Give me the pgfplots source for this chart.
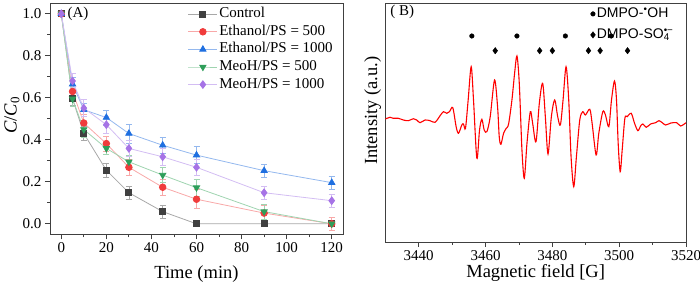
\documentclass[border=0pt]{standalone}
\usepackage{pgfplots}
\pgfplotsset{compat=1.18}
\usepackage{fontspec}
\setmainfont{Liberation Serif}
\newfontfamily\arial{Liberation Sans}
\definecolor{axgray}{HTML}{404040}
\definecolor{ctrlD}{HTML}{404040}
\definecolor{ctrlL}{HTML}{A8A8A8}
\definecolor{redD}{HTML}{F03C3C}
\definecolor{redL}{HTML}{F8A8A8}
\definecolor{blueD}{HTML}{1F6FE0}
\definecolor{blueL}{HTML}{94B8EE}
\definecolor{greenD}{HTML}{2E9E5A}
\definecolor{greenL}{HTML}{9FD4B0}
\definecolor{purpD}{HTML}{A673E6}
\definecolor{purpL}{HTML}{D3BDF3}
\begin{document}
\begin{tikzpicture}
\useasboundingbox (0,0) rectangle (700pt,286pt);
\pgfplotsset{
  common/.style={
    scale only axis, anchor=south west,
    tick align=outside, tick pos=left,
    major tick length=5pt, minor tick length=3pt,
    axis line style={draw=axgray, line width=0.9pt},
    every tick/.style={axgray, line width=0.9pt},
    ticklabel style={font=\fontsize{15}{16}\selectfont, text=black},
    label style={font=\fontsize{18.5}{20}\selectfont},
    /pgf/number format/assume math mode=true,
  }
}
% ---------------- Panel A ----------------
\begin{axis}[common,
  at={(50pt,51.7pt)}, width=293pt, height=231pt,
  xmin=-5, xmax=125, ymin=-0.05, ymax=1.05,
  xtick={0,20,40,60,80,100,120}, minor x tick num=1,
  ytick={0,0.2,0.4,0.6,0.8,1.0}, minor y tick num=1,
  yticklabel style={/pgf/number format/.cd, fixed, fixed zerofill, precision=1},
  xlabel={Time (min)}, ylabel={\textit{C}/\textit{C}\textsubscript{0}},
  xlabel style={at={(axis description cs:0.5,-0.172)}, anchor=center},
  ylabel style={at={(axis description cs:-0.13,0.516)}, anchor=center},
  legend style={draw=none, fill=none, at={(axis description cs:0.46,0.997)}, anchor=north west,
    font=\fontsize{15}{16}\selectfont,
    nodes={text height=10pt, text depth=3pt, inner sep=1.5pt}, row sep=1.6pt},
  legend cell align=left,
  legend image code/.code={\draw[mark repeat=2,mark phase=2,#1] plot coordinates {(0pt,0pt) (14.5pt,0pt) (29pt,0pt)};},
  error bars/y dir=both, error bars/y explicit,
]
\addplot[ctrlL, line width=0.8pt, mark=square*, mark size=3pt, mark options={fill=ctrlD, draw=ctrlD},
  error bars/error bar style={ctrlL, line width=0.7pt},
  error bars/error mark options={rotate=90, mark size=3pt, ctrlL, line width=0.7pt}]
  table[x=x, y=y, y error=e] {
x y e
0 1.000 0.000
5 0.595 0.030
10 0.430 0.035
20 0.255 0.035
30 0.148 0.030
45 0.058 0.030
60 0.000 0.000
90 0.000 0.000
120 0.000 0.000
};
\addlegendentry{Control}
\addplot[redL, line width=0.8pt, mark=*, mark size=3.3pt, mark options={fill=redD, draw=redD},
  error bars/error bar style={redL, line width=0.7pt},
  error bars/error mark options={rotate=90, mark size=3pt, redL, line width=0.7pt}]
  table[x=x, y=y, y error=e] {
x y e
0 1.000 0.000
5 0.630 0.030
10 0.480 0.040
20 0.382 0.035
30 0.269 0.040
45 0.174 0.040
60 0.117 0.045
90 0.051 0.035
120 0.000 0.030
};
\addlegendentry{Ethanol/PS = 500}
\addplot[blueL, line width=0.8pt, mark=triangle*, mark size=3.6pt, mark options={fill=blueD, draw=blueD},
  error bars/error bar style={blueL, line width=0.7pt},
  error bars/error mark options={rotate=90, mark size=3pt, blueL, line width=0.7pt}]
  table[x=x, y=y, y error=e] {
x y e
0 1.000 0.000
5 0.665 0.030
10 0.543 0.030
20 0.506 0.035
30 0.430 0.045
45 0.374 0.040
60 0.327 0.040
90 0.253 0.030
120 0.196 0.030
};
\addlegendentry{Ethanol/PS = 1000}
\addplot[greenL, line width=0.8pt, mark=triangle*, mark size=3.6pt, mark options={fill=greenD, draw=greenD, rotate=180},
  error bars/error bar style={greenL, line width=0.7pt},
  error bars/error mark options={rotate=90, mark size=3pt, greenL, line width=0.7pt}]
  table[x=x, y=y, y error=e] {
x y e
0 1.000 0.000
5 0.595 0.035
10 0.449 0.035
20 0.359 0.030
30 0.295 0.030
45 0.232 0.035
60 0.172 0.040
90 0.058 0.035
120 0.000 0.010
};
\addlegendentry{MeoH/PS = 500}
\addplot[purpL, line width=0.8pt, mark=diamond*, mark size=3.8pt, mark options={fill=purpD, draw=purpD},
  error bars/error bar style={purpL, line width=0.7pt},
  error bars/error mark options={rotate=90, mark size=3pt, purpL, line width=0.7pt}]
  table[x=x, y=y, y error=e] {
x y e
0 1.000 0.000
5 0.680 0.035
10 0.551 0.040
20 0.472 0.040
30 0.359 0.040
45 0.319 0.040
60 0.269 0.040
90 0.148 0.030
120 0.110 0.030
};
\addlegendentry{MeoH/PS = 1000}
\node[font=\fontsize{15}{16}\selectfont, anchor=center] at (axis description cs:0.0956,0.954) {(A)};
\end{axis}
% ---------------- Panel B ----------------
\begin{axis}[common,
  at={(385.3pt,44pt)}, width=300.7pt, height=239pt,
  xmin=3430, xmax=3520, ymin=-124, ymax=115,
  xtick={3440,3460,3480,3500,3520}, minor x tick num=1,
  ytick=\empty,
  xticklabel style={/pgf/number format/.cd, set thousands separator={}},
  xlabel={Magnetic field [G]}, ylabel={Intensity (a.u.)},
  xlabel style={at={(axis description cs:0.5,-0.13)}, anchor=center},
  ylabel style={at={(axis description cs:-0.042,0.549)}, anchor=center},
  legend style={draw=none, fill=none, at={(axis description cs:0.672,0.997)}, anchor=north west,
    font=\arial\fontsize{14}{16}\selectfont,
    nodes={text height=10pt, text depth=3pt, inner sep=1.5pt}, row sep=5pt},
  legend cell align=left,
  legend image code/.code={\draw[mark repeat=2,mark phase=2,#1] plot coordinates {(0pt,0pt) (3pt,0pt) (6pt,0pt)};},
]
\addplot[red, line width=1.1pt, smooth, tension=0.5, forget plot] coordinates {
(3430,-1) (3431.4,0.7) (3432.4,-0.3) (3433.9,-0.3) (3435.4,-2) (3436.9,-2.7)
(3438.4,-0.7) (3439.4,-2) (3440.4,-4.7) (3441.9,-2) (3443.4,-2.7) (3444.9,-4.3)
(3446.4,2.3) (3447.4,6.3) (3448.4,4.7) (3449.2,6.3) (3450.2,10.3) (3451.2,-8.7)
(3451.9,-15.3) (3452.9,-7) (3453.4,-6) (3454.0,-10.3) (3454.8,18) (3455.7,51.3)
(3456.4,18) (3457.4,-40.3) (3458.2,-12) (3458.9,-1.3) (3459.6,-12) (3460.4,-13.7)
(3461.4,1.3) (3462.7,38) (3463.6,11.3) (3464.1,-18.7) (3464.6,-26.3) (3465.4,-15.3)
(3466.2,-10.3) (3466.9,-6) (3467.9,18) (3468.7,44.7) (3469.4,62) (3470.1,34.7)
(3470.9,-32) (3471.6,-60.3) (3472.4,-25.3) (3473.4,6.3) (3474.1,-5.3) (3475.1,-23.7)
(3476.1,14.7) (3477.1,34.7) (3477.9,1.3) (3478.7,-36) (3479.7,1.3) (3480.7,18)
(3481.6,1.3) (3482.4,-7) (3483.2,18) (3484.1,51.3) (3484.9,18) (3485.6,-38.7)
(3486.4,-68.7) (3487.2,-38.7) (3488.2,-2) (3489.1,6.3) (3489.9,3) (3491.2,8.7)
(3491.9,-5.3) (3493.1,-37) (3493.9,-15.3) (3495.1,6.3) (3495.9,3) (3496.9,-8.7)
(3497.7,18) (3498.6,37) (3499.2,18) (3499.7,-25.3) (3500.3,-53.7) (3500.9,-32)
(3501.7,-0.3) (3502.4,1.3) (3503.6,4.7) (3504.6,-5.3) (3505.6,-12.7) (3506.4,-8)
(3507.1,-6) (3508.1,-9.3) (3509.4,-6) (3510.9,-4.7) (3511.9,-2.7) (3512.9,-4.7)
(3513.9,-7) (3515.5,-5) (3517.2,-4.7) (3518.4,-8) (3520,-4.7)
};
\addplot[only marks, mark=*, mark size=2.3pt, black] coordinates {
(3455.9,82) (3469.4,82) (3483.9,82) (3497.6,82)
};
\addlegendentry{DMPO-\textsuperscript{•}OH}
\addplot[only marks, mark=diamond*, mark size=3.2pt, black] coordinates {
(3462.9,67.3) (3476.2,67.3) (3480.0,67.3) (3490.8,67.3) (3494.3,67.3) (3502.5,67.3)
};
\addlegendentry{DMPO-SO\rlap{\textsubscript{4}}\textsuperscript{•−}}
\node[font=\fontsize{15}{16}\selectfont, anchor=west] at (axis description cs:0.005,0.964) {( B)};
\end{axis}
\end{tikzpicture}
\end{document}
